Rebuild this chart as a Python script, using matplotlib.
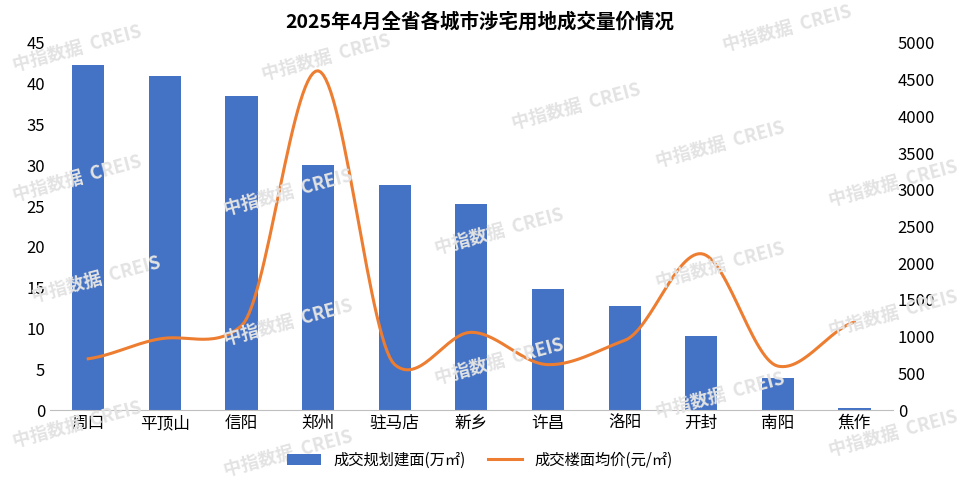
import matplotlib
matplotlib.use("Agg")
import matplotlib.pyplot as plt
from matplotlib import font_manager as fm
import numpy as np

fam = None
for f in fm.findSystemFonts():
    if "CJK" in f:
        try:
            fm.fontManager.addfont(f)
        except Exception:
            pass
names = sorted({f.name for f in fm.fontManager.ttflist if "CJK" in f.name})
for cand in ["Noto Sans CJK SC", "Noto Sans CJK JP", "Noto Sans CJK TC"]:
    if cand in names:
        fam = cand
        break
if fam is None and names:
    fam = names[0]
plt.rcParams['font.family'] = [fam, 'DejaVu Sans'] if fam else ['DejaVu Sans']

cities = ["周口", "平顶山", "信阳", "郑州", "驻马店", "新乡", "许昌", "洛阳", "开封", "南阳", "焦作"]
area = [42.3, 41.0, 38.5, 30.0, 27.6, 25.3, 14.8, 12.8, 9.1, 4.0, 0.3]
price = [700, 980, 1150, 4620, 620, 1060, 620, 950, 2130, 600, 1200]

def smooth(x, y, n=30, k=0.5):
    x = np.asarray(x, float); y = np.asarray(y, float)
    m = np.zeros_like(y)
    m[1:-1] = (y[2:] - y[:-2]) / 2 * k
    m[0] = (y[1] - y[0]) * k
    m[-1] = (y[-1] - y[-2]) * k
    xs, ys = [], []
    for i in range(len(x) - 1):
        t = np.linspace(0, 1, n, endpoint=False)
        h00 = 2*t**3 - 3*t**2 + 1; h10 = t**3 - 2*t**2 + t
        h01 = -2*t**3 + 3*t**2; h11 = t**3 - t**2
        xs.extend(x[i] + t*(x[i+1]-x[i]))
        ys.extend(h00*y[i] + h10*m[i] + h01*y[i+1] + h11*m[i+1])
    xs.append(x[-1]); ys.append(y[-1])
    return np.array(xs), np.array(ys)

fig = plt.figure(figsize=(9.6, 4.82), dpi=100)

for (wx, wy) in [(0.08, 0.9), (0.34, 0.88), (0.6, 0.78), (0.82, 0.94), (0.08, 0.63),
                 (0.3, 0.6), (0.52, 0.52), (0.75, 0.7), (0.93, 0.62), (0.1, 0.42),
                 (0.3, 0.33), (0.52, 0.25), (0.75, 0.45), (0.93, 0.35), (0.08, 0.12),
                 (0.3, 0.06), (0.75, 0.18), (0.93, 0.1)]:
    fig.text(wx, wy, "中指数据  CREIS", fontsize=13, color="#e3e3e3",
             rotation=15, ha="center", va="center", fontweight="bold", zorder=0)

ax = fig.add_axes([0.052, 0.149, 0.878, 0.762])
ax.patch.set_alpha(0)
x = np.arange(len(cities))
b = ax.bar(x, area, width=0.42, color="#4472C4", zorder=2)
ax.set_ylim(0, 45)
ax.set_yticks(range(0, 46, 5))
ax.set_xlim(-0.5, len(cities)-0.5)
ax.set_xticks(x)
ax.set_xticklabels(cities, fontsize=12)
ax.tick_params(axis='y', labelsize=12, length=0)
ax.tick_params(axis='x', length=0)
for s in ["top", "right", "left"]:
    ax.spines[s].set_visible(False)
ax.spines["bottom"].set_color("#bfbfbf")

ax2 = ax.twinx()
sx, sy = smooth(x, price)
l, = ax2.plot(sx, sy, color="#ED7D31", lw=2.2, zorder=3)
ax2.set_ylim(0, 5000)
ax2.set_yticks(range(0, 5001, 500))
ax2.tick_params(axis='y', labelsize=12, length=0)
for s in ["top", "right", "left", "bottom"]:
    ax2.spines[s].set_visible(False)

fig.text(0.5, 0.955, "2025年4月全省各城市涉宅用地成交量价情况", ha="center", va="center",
         fontsize=14, fontweight="bold")
fig.legend([b, l], ["成交规划建面(万㎡)", "成交楼面均价(元/㎡)"], loc="center",
           bbox_to_anchor=(0.5, 0.045), ncol=2, frameon=False, fontsize=11, handlelength=2.2,
           columnspacing=1.5)

fig.savefig("out.png", dpi=100)
